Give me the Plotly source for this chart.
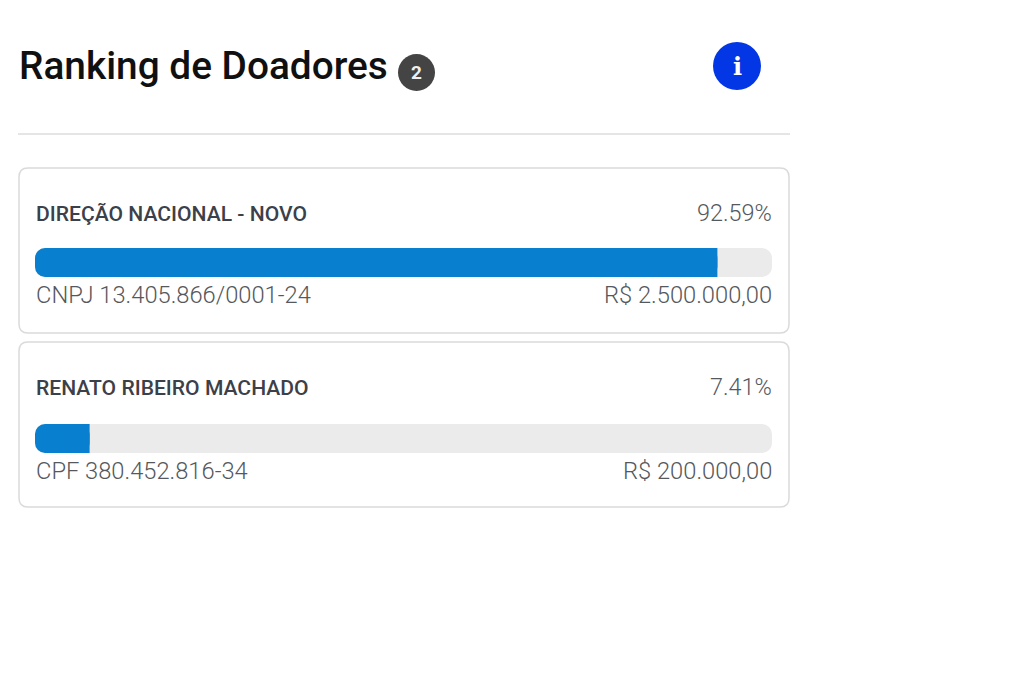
import plotly.graph_objects as go

W, H = 1024, 683
title = "Ranking de Doadores"
donors = ["DIREÇÃO NACIONAL - NOVO", "RENATO RIBEIRO MACHADO"]
ids = ["CNPJ 13.405.866/0001-24", "CPF 380.452.816-34"]
amounts = ["R$ 2.500.000,00", "R$ 200.000,00"]
pct_labels = ["92.59%", "7.41%"]
pct_values = [92.59, 7.41]
full_scale = 100

FONT = "Roboto"
BLUE = "#0880cf"
TRACK = "#ebebeb"

def px(x): return x / W
def py(y): return 1 - y / H

def rrect(x0, y0, x1, y1, r):
    X0, X1 = px(x0), px(x1)
    Y0, Y1 = py(y0), py(y1)
    rx, ry = r / W, r / H
    return (f"M {X0+rx} {Y0} L {X1-rx} {Y0} Q {X1} {Y0} {X1} {Y0-ry} "
            f"L {X1} {Y1+ry} Q {X1} {Y1} {X1-rx} {Y1} L {X0+rx} {Y1} "
            f"Q {X0} {Y1} {X0} {Y1+ry} L {X0} {Y0-ry} Q {X0} {Y0} {X0+rx} {Y0} Z")

fig = go.Figure()
for i, v in enumerate(pct_values):
    suffix = "" if i == 0 else "2"
    common = dict(y=[donors[i]], orientation="h", width=1, showlegend=False, hoverinfo="skip",
                  xaxis="x" + suffix, yaxis="y" + suffix)
    # A bar with an explicit non-zero base is rounded at both ends.
    fig.add_trace(go.Bar(x=[-full_scale], base=[full_scale],
                         marker=dict(color=TRACK, cornerradius=10, line_width=0), **common))
    fig.add_trace(go.Bar(x=[-v], base=[v],
                         marker=dict(color=BLUE, cornerradius=10, line_width=0), **common))
    # Square off the right end of the value bar.
    fig.add_trace(go.Bar(x=[v / 2], base=[v / 2], marker=dict(color=BLUE, line_width=0), **common))

hidden = dict(visible=False, fixedrange=True)
layout = dict(
    width=W, height=H, autosize=False,
    margin=dict(l=0, r=0, t=0, b=0),
    paper_bgcolor="white", plot_bgcolor="rgba(0,0,0,0)",
    barmode="overlay", showlegend=False,
    font=dict(family=FONT),
    xaxis=dict(domain=[px(35), px(772)], range=[0, full_scale], anchor="y", **hidden),
    yaxis=dict(domain=[py(277), py(248)], anchor="x", type="category", **hidden),
    xaxis2=dict(domain=[px(35), px(772)], range=[0, full_scale], anchor="y2", **hidden),
    yaxis2=dict(domain=[py(453), py(424)], anchor="x2", type="category", **hidden),
)

shapes = [
    dict(type="line", xref="paper", yref="paper", x0=px(18), x1=px(790), y0=py(134), y1=py(134),
         line=dict(color="#dcdcdc", width=1.5)),
    dict(type="path", xref="paper", yref="paper", path=rrect(19, 168, 789, 333, 9),
         line=dict(color="#dadada", width=1.5), fillcolor="white", layer="below"),
    dict(type="path", xref="paper", yref="paper", path=rrect(19, 342, 789, 507, 9),
         line=dict(color="#dadada", width=1.5), fillcolor="white", layer="below"),
    dict(type="circle", xref="paper", yref="paper", x0=px(398), x1=px(435), y0=py(91), y1=py(54),
         fillcolor="#444444", line_width=0),
    dict(type="circle", xref="paper", yref="paper", x0=px(713), x1=px(761), y0=py(90), y1=py(42),
         fillcolor="#0336e4", line_width=0),
]

def label(x, y, text, size, color, anchor="left", family=FONT, weight=400):
    return dict(xref="paper", yref="paper", x=px(x), y=py(y), text=text, showarrow=False,
                xanchor=anchor, yanchor="middle", align=anchor,
                font=dict(size=size, color=color, family=family, weight=weight),
                borderpad=0, borderwidth=0)

ann = [
    label(18.5, 65, title, 38.8, "#101010", weight=500),
    label(416.5, 72, "2", 19, "#f0f0f0", "center", weight=700),
    label(737, 66, "i", 24, "white", "center", "DejaVu Serif", 700),
]
rows = [(213, 295), (387, 471)]
for i in range(2):
    ann += [
        label(35.5, rows[i][0], donors[i], 21.1, "#3c4048", weight=500),
        label(772, rows[i][0], pct_labels[i], 23.4, "#55585c", "right", weight=300),
        label(35.5, rows[i][1], ids[i], 23.7, "#55585c", weight=300),
        label(772, rows[i][1], amounts[i], 23.7, "#55585c", "right", weight=300),
    ]
fig.update_layout(shapes=shapes, annotations=ann, **layout)
fig.write_html("out.html", config=dict(displayModeBar=False),
               post_script="document.body.style.margin='0';")
